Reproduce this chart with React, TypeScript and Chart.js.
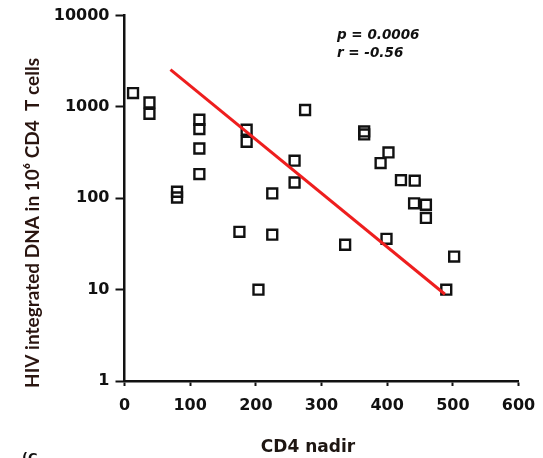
import React, { useEffect, useRef } from "react";
import { Chart, registerables } from "chart.js";

Chart.register(...registerables);

// CD4 nadir (x) and HIV integrated DNA per 10^6 CD4 T cells (y)
const cd4Nadir = [13, 38, 38, 80, 80, 114, 114, 114, 114, 175, 186, 186, 204, 225, 225, 259, 259, 275, 336, 365, 365, 390, 402, 399, 421, 442, 441, 459, 459, 490, 502];
const hivDna = [1420, 1120, 840, 118, 102, 724, 573, 351, 184, 43, 563, 416, 10, 113, 40, 258, 149, 926, 31, 540, 500, 243, 318, 36, 158, 156, 88, 85, 61, 10, 23];

// regression line end points
const fitX = [70, 488];
const fitY = [2560, 8.9];

const xTicks = [0, 100, 200, 300, 400, 500, 600];
const yTicks = [1, 10, 100, 1000, 10000];

const xTitle = "CD4 nadir";
const yTitle = "HIV integrated DNA in 10\u2076 CD4  T cells";
const statP = "p = 0.0006";
const statR = "r = -0.56";

export default function App() {
  const ref = useRef<HTMLCanvasElement | null>(null);

  useEffect(() => {
    const canvas = ref.current;
    if (!canvas) return;

    const textPlugin = {
      id: "texts",
      afterDraw(chart: any) {
        const ctx = chart.ctx;
        ctx.save();
        ctx.fillStyle = "#2a1510";
        // y title
        ctx.save();
        ctx.translate(33, 223);
        ctx.rotate(-Math.PI / 2);
        ctx.font = "bold 19px Lato";
        ctx.textAlign = "center";
        ctx.textBaseline = "middle";
        ctx.fillText(yTitle, 0, 0);
        ctx.restore();
        // x title
        ctx.fillStyle = "#1e1612";
        ctx.font = "bold 17px 'DejaVu Sans'";
        ctx.textAlign = "center";
        ctx.textBaseline = "middle";
        ctx.fillText(xTitle, 308, 448);
        // stats
        ctx.fillStyle = "#111";
        ctx.font = "italic bold 13.5px 'DejaVu Sans'";
        ctx.textAlign = "left";
        ctx.fillText(statP, 337, 35);
        ctx.fillText(statR, 337, 53);
        // cut-off fragment at bottom-left
        ctx.font = "bold 13px 'DejaVu Sans'";
        ctx.textBaseline = "top";
        ctx.fillText("(C", 22, 452);
        ctx.restore();
      },
    };

    const chart = new Chart(canvas, {
      type: "scatter",
      data: {
        datasets: [
          {
            label: "fit",
            data: fitX.map((x, i) => ({ x, y: fitY[i] })),
            showLine: true,
            borderColor: "rgb(238,30,30)",
            borderWidth: 3,
            pointRadius: 0,
            fill: false,
          },
          {
            label: "patients",
            data: cd4Nadir.map((x, i) => ({ x, y: hivDna[i] })),
            pointStyle: "rect",
            pointRadius: 7,
            borderColor: "#111",
            backgroundColor: "rgba(0,0,0,0)",
            borderWidth: 2.4,
          },
        ],
      },
      options: {
        responsive: false,
        animation: false,
        layout: { padding: { top: 15, right: 24.5, left: 0, bottom: 0 } },
        plugins: {
          legend: { display: false },
          tooltip: { enabled: false },
        },
        scales: {
          x: {
            type: "linear",
            min: 0,
            max: 600,
            afterFit: (s: any) => {
              s.height = 77;
              s.paddingLeft = 0;
              s.paddingRight = 0;
            },
            afterBuildTicks: (s: any) => {
              s.ticks = xTicks.map((v) => ({ value: v }));
            },
            grid: {
              drawOnChartArea: false,
              drawTicks: true,
              tickLength: 5,
              tickWidth: 2,
              tickColor: "#111",
            },
            border: { display: true, color: "#111", width: 2.5 },
            ticks: {
              color: "#111",
              padding: 10,
              font: { family: "'DejaVu Sans'", weight: "bold", size: 16 },
              autoSkip: false,
              maxRotation: 0,
            },
          },
          y: {
            type: "logarithmic",
            min: 1,
            max: 10000,
            afterFit: (s: any) => {
              s.width = 124.5;
            },
            afterBuildTicks: (s: any) => {
              s.ticks = yTicks.map((v) => ({ value: v }));
            },
            grid: {
              drawOnChartArea: false,
              drawTicks: true,
              tickLength: 9,
              tickWidth: 2,
              tickColor: "#111",
            },
            border: { display: true, color: "#111", width: 2.5 },
            ticks: {
              color: "#111",
              padding: 6,
              font: { family: "'DejaVu Sans'", weight: "bold", size: 16 },
              autoSkip: false,
              callback: (v: any) => String(v),
            },
          },
        },
      },
      plugins: [textPlugin],
    });

    return () => chart.destroy();
  }, []);

  return (
    <div style={{ position: "absolute", left: 0, top: 0, width: 543, height: 458, background: "#fff" }}>
      <canvas ref={ref} width={543} height={458} style={{ width: 543, height: 458, display: "block" }} />
    </div>
  );
}
